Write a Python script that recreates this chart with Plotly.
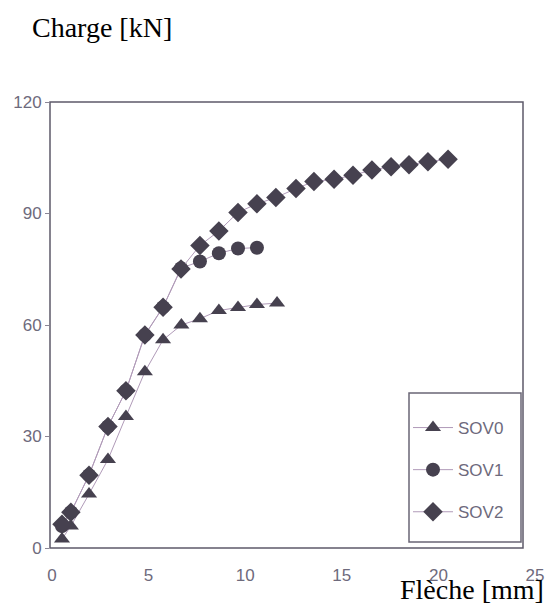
import plotly.graph_objects as go

# Data (Flèche [mm] vs Charge [kN])
sov0_x = [0.52, 0.98, 1.92, 2.90, 3.83, 4.81, 5.75, 6.70, 7.66, 8.64, 9.63, 10.61, 11.65]
sov0_y = [2.4, 5.9, 14.5, 23.8, 35.4, 47.4, 56.0, 60.0, 61.7, 63.9, 64.7, 65.5, 65.9]

sov1_x = [0.52, 0.98, 1.92, 2.90, 3.83, 4.81, 5.75, 6.68, 7.66, 8.64, 9.63, 10.61]
sov1_y = [5.9, 9.6, 19.6, 32.7, 42.3, 57.3, 64.8, 75.3, 77.1, 79.3, 80.6, 80.8]

sov2_x = [0.52, 0.98, 1.92, 2.90, 3.83, 4.81, 5.75, 6.68, 7.66, 8.64, 9.63, 10.61,
          11.59, 12.63, 13.56, 14.60, 15.58, 16.56, 17.55, 18.48, 19.46, 20.50]
sov2_y = [6.4, 9.6, 19.6, 32.7, 42.3, 57.3, 64.8, 75.1, 81.4, 85.3, 90.3, 92.6,
          94.3, 96.7, 98.6, 99.2, 100.3, 101.7, 102.6, 103.1, 103.9, 104.6]

names = ["SOV0", "SOV1", "SOV2"]
x_ticks = [0, 5, 10, 15, 20, 25]
y_ticks = [0, 30, 60, 90, 120]

MARK = "#46414f"
LINE = "#b09ab8"
TICKC = "#6e6a7c"

fig = go.Figure()
series = [(sov0_x, sov0_y, "triangle-up", 14),
          (sov1_x, sov1_y, "circle", 14),
          (sov2_x, sov2_y, "diamond", 15)]
for (xs, ys, sym, sz), nm in zip(series, names):
    fig.add_trace(go.Scatter(
        x=xs, y=ys, name=nm, mode="lines+markers", legendgroup=nm,
        line=dict(color=LINE, width=1),
        marker=dict(symbol=sym, size=sz, color=MARK, line=dict(width=0)),
    ))

W, H = 548, 603
L, R, T, B = 50, 13, 102, 55
pw = W - L - R
ph = H - T - B

def px(xp):
    return (xp - L) / pw

def py(yp):
    return (H - B - yp) / ph

fig.update_layout(
    width=W, height=H,
    margin=dict(l=L, r=R, t=T, b=B),
    paper_bgcolor="white", plot_bgcolor="white",
    font=dict(family="Liberation Sans, Arial, sans-serif", color=TICKC, size=17),
    xaxis=dict(range=[-0.1, 25], tickvals=x_ticks, ticktext=[str(v) for v in x_ticks],
               showgrid=False, zeroline=False, showline=False, ticks="",
               tickfont=dict(size=17, color=TICKC), ticklabelstandoff=15,
               automargin=False, ticklabeloverflow="allow"),
    yaxis=dict(range=[0, 120], tickvals=y_ticks, ticktext=[str(v) for v in y_ticks],
               showgrid=False, zeroline=False, showline=False, ticks="outside",
               ticklen=4, tickcolor="#8a8696", tickwidth=1,
               tickfont=dict(size=17, color=TICKC), automargin=False,
               ticklabeloverflow="allow"),
    legend=dict(x=px(408), xanchor="left", y=py(410), yanchor="top",
                bgcolor="rgba(0,0,0,0)", borderwidth=0,
                font=dict(size=17, color=TICKC), tracegroupgap=17,
                itemwidth=40),
    shapes=[
        dict(type="rect", xref="paper", yref="paper", x0=px(409), x1=px(521), y0=py(542), y1=py(393),
             line=dict(color="#6a6676", width=1.5), fillcolor="white", layer="above"),
        dict(type="rect", xref="paper", yref="paper", x0=0, x1=px(523), y0=0, y1=1,
             line=dict(color="#5e5a6a", width=1.5), layer="above"),
    ],
    annotations=[
        dict(text="Charge [kN]", xref="paper", yref="paper", x=px(30), xanchor="left",
             y=py(28), yanchor="middle", showarrow=False,
             font=dict(family="Liberation Serif, Times New Roman, serif", size=28, color="black")),
        dict(text="Flèche [mm]", xref="paper", yref="paper", x=px(546), xanchor="right",
             y=py(589), yanchor="middle", showarrow=False,
             font=dict(family="Liberation Serif, Times New Roman, serif", size=28, color="black")),
    ],
)

fig.write_html("out.html", config={"displayModeBar": False},
               post_script="document.body.style.margin='0';document.body.style.overflow='hidden';")
